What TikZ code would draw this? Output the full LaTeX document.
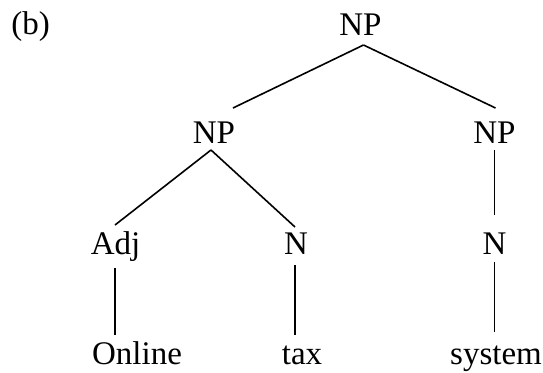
\documentclass[tikz,border=0pt]{standalone}
\usepackage{fontspec}
\setmainfont{Liberation Serif}
\usetikzlibrary{calc}
\begin{document}
\begin{tikzpicture}[x=1pt,y=-1pt,
  lbl/.style={font=\fontsize{33}{38}\selectfont, inner sep=0pt, anchor=base},
  edge/.style={line width=1.6pt}]
\useasboundingbox (0,0) rectangle (543,372);
\node[lbl] (b) at (30.5,34.5) {(b)};
\node[lbl] (np0) at (360.5,35) {NP};
\node[lbl] (np1) at (214,143) {NP};
\node[lbl] (np2) at (494.5,143) {NP};
\node[lbl] (adj) at (115.5,254) {Adj};
\node[lbl] (n1) at (296,254) {N};
\node[lbl] (n2) at (494.5,254) {N};
\node[lbl] (w1) at (137,364) {Online};
\node[lbl] (w2) at (302,364) {tax};
\node[lbl] (w3) at (496,364) {system};
\draw[edge] ($(np0.base)+(3,10)$) -- ($(np1.base)+(19,-35)$);
\draw[edge] ($(np0.base)+(3,10)$) -- ($(np2.base)+(1,-35)$);
\draw[edge] ($(np1.base)+(-3,7)$) -- ($(adj.base)+(-0.5,-29)$);
\draw[edge] ($(np1.base)+(-3,7)$) -- ($(n1.base)+(-1,-27)$);
\draw[edge] ($(np2.base)+(0,7)$) -- ($(n2.base)+(0,-39)$);
\draw[edge] ($(adj.base)+(-0.5,14)$) -- ($(w1.base)+(-22,-29)$);
\draw[edge] ($(n1.base)+(-1,11)$) -- ($(w2.base)+(-7,-29)$);
\draw[edge] ($(n2.base)+(0,8)$) -- ($(w3.base)+(-1.5,-32)$);
\end{tikzpicture}
\end{document}
